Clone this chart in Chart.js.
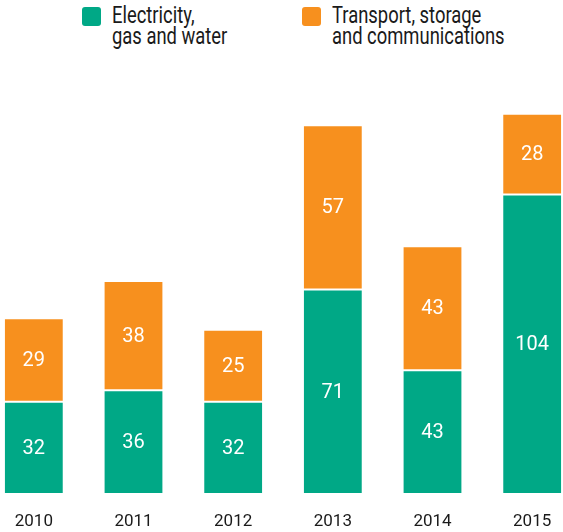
<!DOCTYPE html>
<html><head><meta charset="utf-8">
<script src="https://cdn.jsdelivr.net/npm/chart.js@4/dist/chart.umd.min.js"></script>
<style>
html,body{margin:0;padding:0;width:563px;height:532px;overflow:hidden;background:#fff;position:relative}
#wrap{position:absolute;left:-16px;top:0;width:598px;height:532px}
.lg{position:absolute;top:5px;font-family:Roboto,sans-serif;font-size:23px;line-height:21px;color:#1a1a1a;white-space:nowrap;transform:scaleX(0.8);transform-origin:0 0}
.sw{position:absolute;top:7px;width:19px;height:19px;border-radius:3px}
</style></head><body>
<div class="sw" style="left:82px;background:#00a886"></div>
<div class="lg" style="left:112px">Electricity,<br>gas and water</div>
<div class="sw" style="left:302px;background:#f7901e"></div>
<div class="lg" style="left:332px">Transport, storage<br>and communications</div>
<div id="wrap"><canvas id="c"></canvas></div>
<script>
const categories = ["2010","2011","2012","2013","2014","2015"];
const electricity = [32,36,32,71,43,104];
const transport = [29,38,25,57,43,28];
const seriesNames = ["Electricity, gas and water","Transport, storage and communications"];
const FONT = "Roboto, sans-serif";

const valueLabels = {
  id:'valueLabels',
  afterDatasetsDraw(chart){
    const ctx = chart.ctx;
    ctx.save();
    ctx.fillStyle = '#fff';
    ctx.font = '20px ' + FONT;
    ctx.textAlign = 'center';
    ctx.textBaseline = 'middle';
    chart.data.datasets.forEach((ds,i)=>{
      chart.getDatasetMeta(i).data.forEach((bar,j)=>{
        const y = (bar.y + bar.base)/2;
        ctx.fillText(String(ds.data[j]), bar.x, y + 1);
      });
    });
    ctx.restore();
  }
};

new Chart(document.getElementById('c'),{
  type:'bar',
  data:{
    labels:categories,
    datasets:[
      {label:seriesNames[0],data:electricity,backgroundColor:'#00a886',borderColor:'#ffffff',borderWidth:1,borderSkipped:false},
      {label:seriesNames[1],data:transport,backgroundColor:'#f7901e',borderColor:'#ffffff',borderWidth:1,borderSkipped:false}
    ]
  },
  options:{
    responsive:true,maintainAspectRatio:false,animation:false,
    layout:{padding:{top:62,bottom:0,left:0,right:0}},
    plugins:{legend:{display:false},tooltip:{enabled:false}},
    datasets:{bar:{categoryPercentage:1,barPercentage:0.6}},
    scales:{
      x:{stacked:true,grid:{display:false,drawTicks:false},border:{display:false},
         afterFit(scale){ scale.height = 38; },
         ticks:{color:'#1a1a1a',padding:18,font:{family:FONT,size:17}}},
      y:{stacked:true,display:false,min:0,max:150}
    }
  },
  plugins:[valueLabels]
});
</script>
</body></html>
